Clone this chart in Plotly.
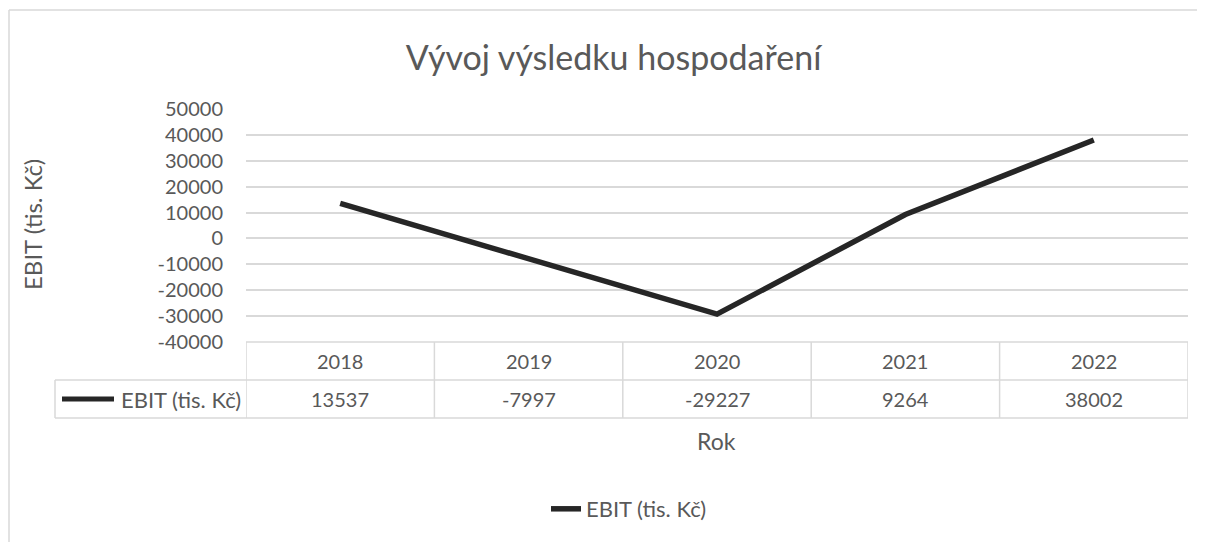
import plotly.graph_objects as go

# data
roky = ["2018", "2019", "2020", "2021", "2022"]
ebit = [13537, -7997, -29227, 9264, 38002]
serie_nazev = "EBIT (tis. Kč)"
y_ticks = [50000, 40000, 30000, 20000, 10000, 0, -10000, -20000, -30000, -40000]

W, H = 1205, 542
OFF = 8  # page body margin
L, T = 246 - OFF, 109 - OFF
pw, ph = 942, 233
R = W - L - pw
B = H - T - ph

FONT = "Lato, 'Open Sans', sans-serif"
GREY = "#595959"
LINE = "#d9d9d9"
DARK = "#262626"

def px(xpix):
    return (xpix - OFF - L) / pw

def py(ypix):
    return (T + ph - (ypix - OFF)) / ph

fig = go.Figure()
fig.add_trace(go.Scatter(
    x=roky, y=ebit, mode="lines", name=serie_nazev,
    line=dict(color=DARK, width=5.5),
))

shapes = []
ann = []

# table grid
row1, row2 = py(380), py(418)
shapes.append(dict(type="line", xref="paper", yref="paper", x0=0, x1=1, y0=0, y1=0,
                   line=dict(color=LINE, width=1.5)))
for yy in (row1, row2):
    shapes.append(dict(type="line", xref="paper", yref="paper", x0=px(55), x1=1, y0=yy, y1=yy,
                       line=dict(color=LINE, width=1.5)))
shapes.append(dict(type="line", xref="paper", yref="paper", x0=px(55), x1=px(55), y0=row1, y1=row2,
                   line=dict(color=LINE, width=1.5)))
for i in range(len(roky) + 1):
    shapes.append(dict(type="line", xref="x", yref="paper", x0=i - 0.5, x1=i - 0.5, y0=0, y1=row2,
                       line=dict(color=LINE, width=1.5)))

# legend key inside table
shapes.append(dict(type="line", xref="paper", yref="paper", x0=px(62), x1=px(114), y0=py(399), y1=py(399),
                   line=dict(color=DARK, width=5)))
ann.append(dict(x=px(119), y=py(399), xref="paper", yref="paper", text=serie_nazev, showarrow=False,
                xanchor="left", yanchor="middle", font=dict(size=22, color=GREY, family=FONT)))

for i, (r, v) in enumerate(zip(roky, ebit)):
    ann.append(dict(x=i, y=py(361), xref="x", yref="paper", text=r, showarrow=False,
                    xanchor="center", yanchor="middle", font=dict(size=20, color=GREY, family=FONT)))
    ann.append(dict(x=i, y=py(399), xref="x", yref="paper", text=str(v), showarrow=False,
                    xanchor="center", yanchor="middle", font=dict(size=20, color=GREY, family=FONT)))

# axis titles
ann.append(dict(x=px(32), y=py(225), xref="paper", yref="paper", text=serie_nazev, showarrow=False,
                textangle=-90, xanchor="center", yanchor="middle", font=dict(size=24, color=GREY, family=FONT)))
ann.append(dict(x=px(716), y=py(441), xref="paper", yref="paper", text="Rok", showarrow=False,
                xanchor="center", yanchor="middle", font=dict(size=23, color=GREY, family=FONT)))

# chart frame
shapes.append(dict(type="line", xref="paper", yref="paper", x0=px(9), x1=px(9), y0=py(10), y1=py(570),
                   line=dict(color=LINE, width=1.5)))
shapes.append(dict(type="line", xref="paper", yref="paper", x0=px(9), x1=px(1230), y0=py(10), y1=py(10),
                   line=dict(color=LINE, width=1.5)))

fig.update_layout(
    width=W, height=H,
    margin=dict(l=L, r=R, t=T, b=B),
    paper_bgcolor="white", plot_bgcolor="white",
    font=dict(family=FONT, color=GREY, size=20),
    title=dict(text="Vývoj výsledku hospodaření", x=(613.5 - OFF) / W, xanchor="center",
               y=1 - (58 - OFF) / H, yanchor="middle",
               font=dict(size=34, color=GREY, family=FONT)),
    xaxis=dict(type="category", range=[-0.5, len(roky) - 0.5], showgrid=False, showticklabels=False,
               showline=False, zeroline=False),
    yaxis=dict(range=[-40000, 50000], tickvals=y_ticks, ticktext=[str(t) for t in y_ticks],
               showgrid=True, gridcolor=LINE, gridwidth=1.5, zeroline=False, showline=False,
               ticklabelstandoff=22, tickfont=dict(size=20, color=GREY)),
    showlegend=True,
    legend=dict(orientation="h", x=px(629), xanchor="center", y=py(509), yanchor="middle",
                font=dict(size=22, color=GREY)),
    shapes=shapes, annotations=ann,
)

fig.write_html("out.html")
